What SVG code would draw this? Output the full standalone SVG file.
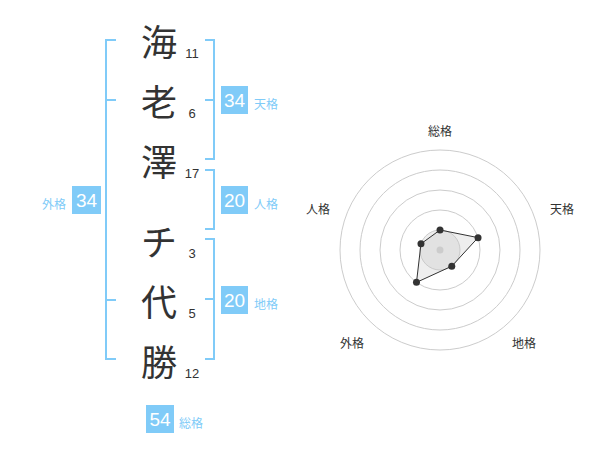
<svg xmlns="http://www.w3.org/2000/svg" width="600" height="470" viewBox="0 0 600 470">
<style>
.k{font-family:"Noto Sans CJK JP",sans-serif;font-size:36px;fill:#333;text-anchor:middle;dominant-baseline:central}
.n{font-family:"Liberation Sans","Noto Sans CJK JP",sans-serif;font-size:13px;fill:#333;text-anchor:middle}
.br{fill:none;stroke:#80cbf8;stroke-width:2}
.box{fill:#80cbf8}
.bv{font-family:"Liberation Sans",sans-serif;font-size:19px;fill:#fff;text-anchor:middle;dominant-baseline:central}
.bl{font-family:"Noto Sans CJK JP",sans-serif;font-size:12px;fill:#80cbf8;dominant-baseline:central}
.rl{font-family:"Noto Sans CJK JP",sans-serif;font-size:12px;fill:#333;text-anchor:middle;dominant-baseline:central}
.ring{fill:none;stroke:#ccc;stroke-width:1}
.pt{fill:#333}
</style>
<g id="chars">
<g id="c1"><text class="k" x="159" y="40">海</text><text class="n" x="192" y="58">11</text></g>
<g id="c2"><text class="k" x="159" y="100">老</text><text class="n" x="192" y="118">6</text></g>
<g id="c3"><text class="k" x="159" y="160">澤</text><text class="n" x="192" y="178">17</text></g>
<g id="c4"><text class="k" x="159" y="240">チ</text><text class="n" x="192" y="258">3</text></g>
<g id="c5"><text class="k" x="159" y="300">代</text><text class="n" x="192" y="318">5</text></g>
<g id="c6"><text class="k" x="159" y="360">勝</text><text class="n" x="192" y="378">12</text></g>
</g>
<g id="connectors">
<path class="br" d="M116,40 H106 V359 H116 M106,100 H116 M106,300 H116"/>
<path class="br" d="M205,40 H214 V159 H205 M214,100 H205"/>
<path class="br" d="M205,170 H214 V229 H205"/>
<path class="br" d="M205,239 H214 V359 H205 M214,299 H205"/>
</g>
<g id="tenkaku"><rect class="box" x="221" y="86" width="27" height="28"/><text class="bv" x="234.5" y="100">34</text><text class="bl" x="254" y="103">天格</text></g>
<g id="jinkaku"><rect class="box" x="221" y="186" width="27" height="28"/><text class="bv" x="234.5" y="200">20</text><text class="bl" x="254" y="203">人格</text></g>
<g id="chikaku"><rect class="box" x="221" y="286" width="27" height="28"/><text class="bv" x="234.5" y="300">20</text><text class="bl" x="254" y="303">地格</text></g>
<g id="gaikaku"><rect class="box" x="72" y="186" width="29" height="28"/><text class="bv" x="86.5" y="200">34</text><text class="bl" x="42" y="203">外格</text></g>
<g id="soukaku"><rect class="box" x="146" y="405" width="28" height="28"/><text class="bv" x="160" y="419">54</text><text class="bl" x="179" y="422">総格</text></g>
<g id="radar">
<circle cx="440" cy="250" r="20" fill="#eee" stroke="#ccc"/>
<circle class="ring" cx="440" cy="250" r="40"/>
<circle class="ring" cx="440" cy="250" r="60"/>
<circle class="ring" cx="440" cy="250" r="80"/>
<circle class="ring" cx="440" cy="250" r="100"/>
<polygon points="440,230 478.04,237.64 451.76,266.18 416.49,282.36 420.98,243.82" fill="rgba(200,200,200,0.3)" stroke="#333" stroke-width="1"/>
<circle cx="440" cy="250" r="3.5" fill="#ccc"/>
<circle class="pt" cx="440" cy="230" r="3.5"/>
<circle class="pt" cx="478.04" cy="237.64" r="3.5"/>
<circle class="pt" cx="451.76" cy="266.18" r="3.5"/>
<circle class="pt" cx="416.49" cy="282.36" r="3.5"/>
<circle class="pt" cx="420.98" cy="243.82" r="3.5"/>
<text class="rl" x="440" y="130">総格</text>
<text class="rl" x="562" y="208">天格</text>
<text class="rl" x="524" y="342">地格</text>
<text class="rl" x="352" y="342">外格</text>
<text class="rl" x="318" y="208">人格</text>
</g>
</svg>
